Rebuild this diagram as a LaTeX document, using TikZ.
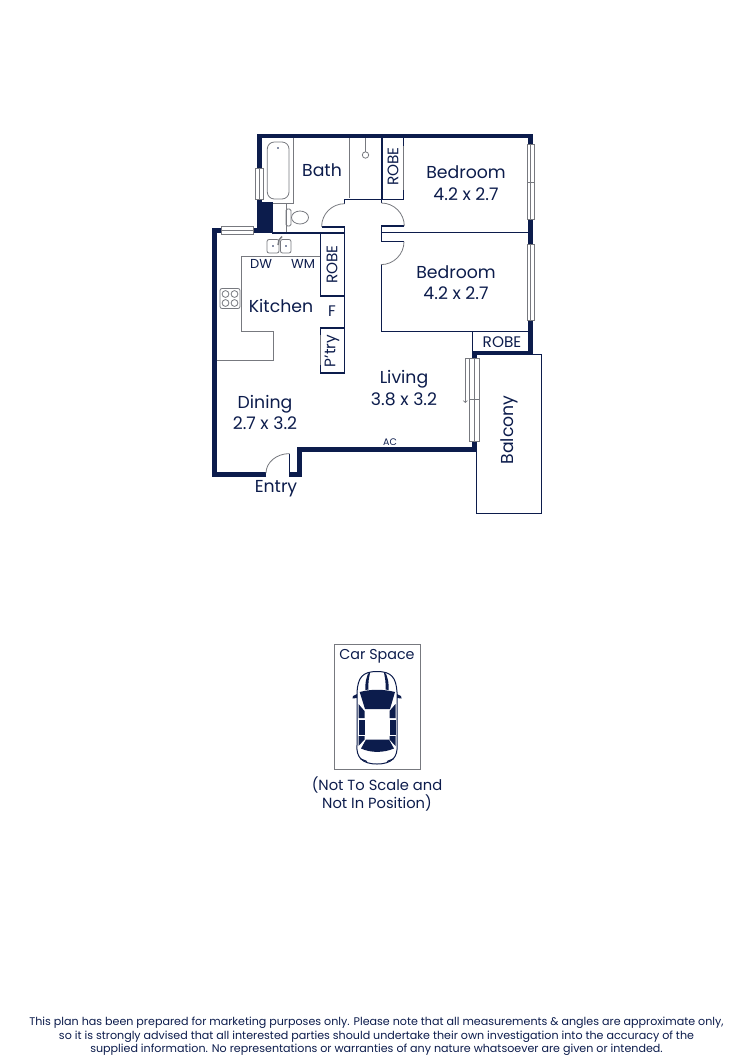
\documentclass[tikz,border=0pt]{standalone}
\usepackage{fontspec}
\setmainfont{Poppins}
\definecolor{navy}{HTML}{0C1C4C}
\definecolor{fixture}{HTML}{77797F}
\tikzset{
    wall/.style={navy, line width=4.6pt},
    partition/.style={navy, line width=1.6pt},
    fitting/.style={fixture, line width=0.8pt},
    windowpane/.style={draw=fixture, fill=white, line width=0.8pt},
    roomlabel/.style={text=navy, font=\fontsize{17.3}{21.5}\selectfont, align=center, inner sep=0pt},
    smalllabel/.style={text=navy, font=\fontsize{15.3}{18}\selectfont, inner sep=0pt},
    tinylabel/.style={text=navy, font=\fontsize{13}{15}\selectfont, inner sep=0pt},
    carglass/.style={fill=navy, draw=none}
}
\begin{document}
\begin{tikzpicture}[x=1pt, y=-1pt]
  \useasboundingbox (0,0) rectangle (750,1061);
  % balcony
  \draw[navy, line width=0.9pt, fill=white] (476.7,354.5) rectangle (541,513);
  % outer walls
  \draw[wall] (259.5,202) -- (259.5,135.8) -- (530.3,135.8) -- (530.3,146);
  \draw[wall] (530.3,218) -- (530.3,246);
  \draw[wall] (530.3,318) -- (530.3,353) -- (474.5,353) -- (474.5,360);
  \draw[wall] (474.5,440) -- (474.5,449.5) -- (299.3,449.5) -- (299.3,474.5) -- (289,474.5);
  \draw[wall] (266,474.5) -- (214.3,474.5) -- (214.3,230.5) -- (223,230.5);
  \draw[wall] (252,230.5) -- (262,230.5);
  \fill[navy] (257.3,202) rectangle (272.8,233);
  % inner walls
  \draw[partition] (344.6,203.5) -- (344.6,199.5) -- (403.5,199.5) -- (403.5,190);
  \draw[partition] (403.5,146) -- (403.5,138);
  \draw[partition] (382,138) -- (382,199.5);
  \draw[partition] (381.3,199.5) -- (381.3,203);
  \draw[partition] (322,226.7) -- (344.6,226.7) -- (344.6,373) -- (320.3,373) -- (320.3,365);
  \draw[partition] (320.3,335) -- (320.3,328) -- (344.6,328);
  \draw[partition] (320.3,233) -- (320.3,295.7) -- (344.6,295.7);
  \draw[partition] (404,226) -- (381.3,226) -- (381.3,241.6) -- (404,241.6);
  \draw[partition] (381.3,232.3) -- (528,232.3);
  \draw[partition] (381.3,265) -- (381.3,331.5) -- (472.5,331.5) -- (472.5,351);
  \draw[partition] (472.5,331.5) -- (528,331.5);
  \draw[partition] (289.5,454) -- (289.5,473);
  \draw[partition] (272,232.8) -- (344.6,232.8);
  % doors
  \draw[fitting] (344.6,203.7) arc[start angle=90, end angle=180, radius=23pt];
  \draw[fitting] (381.3,203) arc[start angle=90, end angle=0, radius=23pt];
  \draw[fitting] (404,241.6) arc[start angle=0, end angle=-90, radius=23pt];
  \draw[fitting] (289.5,453.6) arc[start angle=90, end angle=180, x radius=23.5pt, y radius=19.5pt];
  \draw[fitting] (320.3,335) -- (320.3,365);
  \draw[fitting] (403.5,146) -- (403.5,190);
  % windows
  \draw[windowpane] (255.5,168) rectangle (263,199);
  \draw[windowpane] (221.5,226.5) rectangle (253,234);
  \draw[windowpane] (527,144) rectangle (534,219);
  \draw[fitting] (527,182) -- (534,182);
  \draw[windowpane] (527,244) rectangle (534,320);
  \draw[windowpane] (469.5,358) rectangle (479,441);
  \draw[fitting] (469.5,399) -- (479,399);
  \draw[fitting] (474.2,358) -- (474.2,441);
  \draw[fitting] (530.5,144) -- (530.5,219);
  \draw[fitting] (530.5,244) -- (530.5,320);
  \draw[fitting] (259.2,168) -- (259.2,199);
  \draw[fitting] (221.5,230.2) -- (253,230.2);
  \draw[fitting, -to] (465.3,358) -- (465.3,403) ;
  \draw[fitting] (465.3,358) -- (469.5,358);
  % bath and toilet
  \draw[fitting] (293,138) -- (293,203) -- (273,203);
  \draw[fitting] (286,203) -- (286,232);
  \draw[fitting, rounded corners=7pt] (267.3,142) rectangle (289,199);
  \fill[navy] (278,148) circle (0.9pt);
  \draw[fitting, rounded corners=1.5pt] (286,209) rectangle (291,226);
  \draw[fitting, fill=white] (300,217.5) ellipse (8.5pt and 6.5pt);
  \draw[fitting] (349.5,138) -- (349.5,198);
  \draw[fitting] (365.5,138) -- (365.5,152);
  \draw[fitting] (365.5,155) circle (3.2pt);
  % kitchen
  \draw[fitting] (320,256) -- (241,256) -- (241,331.7) -- (273,331.7) -- (273,360.7) -- (217,360.7);
  \draw[fitting, fill=white, rounded corners=2pt] (220,288.5) rectangle (240,308.5);
  \foreach \hobx in {225.5,234.5} {
    \foreach \hoby in {294,303} {
      \draw[fitting] (\hobx,\hoby) circle (3.4pt);
    }
  }
  \draw[fitting, rounded corners=2pt] (267,239.5) rectangle (279,253);
  \draw[fitting, rounded corners=2pt] (280.5,239.5) rectangle (291,253);
  \fill[navy] (273,246) circle (0.8pt);
  \fill[navy] (286,246) circle (0.8pt);
  \draw[fitting, line width=1.4pt] (278,245) -- (279,240) -- (282,236.5);
  % labels
  \node[roomlabel] (bathname) at (322,170) {Bath};
  \node[roomlabel] (bedroomupper) at (466,183) {Bedroom\\4.2 x 2.7};
  \node[roomlabel] (bedroomlower) at (456,282.5) {Bedroom\\4.2 x 2.7};
  \node[roomlabel] (kitchenname) at (281,305.5) {Kitchen};
  \node[roomlabel] (livingname) at (404,388) {Living\\3.8 x 3.2};
  \node[roomlabel] (diningname) at (265,412.5) {Dining\\2.7 x 3.2};
  \node[roomlabel] (entryname) at (276,488.5) {Entry};
  \node[roomlabel, rotate=90] (balconyname) at (509,430) {Balcony};
  \node[smalllabel, rotate=90] (robeupper) at (393,166.5) {ROBE};
  \node[smalllabel, rotate=90] (robekitchen) at (332,264.5) {ROBE};
  \node[smalllabel] (robelower) at (502,342) {ROBE};
  \node[smalllabel, rotate=90] (pantryname) at (332,351) {P'try};
  \node[smalllabel] (fridgename) at (332,311.5) {F};
  \node[tinylabel] (dwname) at (261,263.5) {DW};
  \node[tinylabel] (wmname) at (303,263.5) {WM};
  \node[text=navy, font=\fontsize{9.5}{11}\selectfont, inner sep=0pt] (acname) at (390,442.5) {AC};
  % car space
  \draw[fixture, line width=1pt] (334.5,644) rectangle (420.5,769);
  \node[smalllabel, font=\fontsize{14.3}{17}\selectfont] (carname) at (377,656) {Car Space};
  \draw[navy, line width=1pt, fill=white] (377,671.5)
    .. controls (362,671.5) and (358,678) .. (357,692)
    -- (357,745) .. controls (356,757) and (362,764) .. (377,764)
    .. controls (392,764) and (398,757) .. (397,745)
    -- (397,692) .. controls (396,678) and (392,671.5) .. (377,671.5) -- cycle;
  \fill[navy] (357,694) -- (353,696) -- (352.5,698.5) -- (357,698) -- cycle;
  \fill[navy] (397,694) -- (401,696) -- (401.5,698.5) -- (397,698) -- cycle;
  \fill[carglass] (359.7,692) .. controls (371,689) and (383,689) .. (395,692) -- (390,709) -- (365,709) -- cycle;
  \fill[carglass] (366,739.5) -- (389,739.5) -- (394,748.5) .. controls (383,753) and (371,753) .. (361,748.5) -- cycle;
  \fill[carglass] (358.5,704) -- (364.5,711) -- (364.5,718) -- (358.5,718) -- cycle;
  \fill[carglass] (395.5,704) -- (389.5,711) -- (389.5,718) -- (395.5,718) -- cycle;
  \fill[carglass] (358.5,719.5) rectangle (364.5,734.5);
  \fill[carglass] (389.5,719.5) rectangle (395.5,734.5);
  \fill[carglass] (358.5,736) -- (364.5,736) -- (364.5,739.5) -- (358.5,746) -- cycle;
  \fill[carglass] (395.5,736) -- (389.5,736) -- (389.5,739.5) -- (395.5,746) -- cycle;
  \fill[carglass] (368,673.5) .. controls (366,680) and (365,682) .. (365.5,690) -- (368.5,689.5) .. controls (368,682) and (369,678) .. (370,673) -- cycle;
  \fill[carglass] (386,673.5) .. controls (388,680) and (389,682) .. (388.5,690) -- (385.5,689.5) .. controls (386,682) and (385,678) .. (384,673) -- cycle;
  \draw[navy, line width=1pt] (360,758.5) -- (367,761.5);
  \draw[navy, line width=1pt] (394,758.5) -- (387,761.5);
  \node[smalllabel, align=center, font=\fontsize{14.7}{18}\selectfont] (scalenote) at (377,794) {(Not To Scale and\\Not In Position)};
  % disclaimer
  \node[text=navy, font=\fontsize{11.1}{13.5}\selectfont, align=center, inner sep=0pt] (disclaimer) at (376.5,1036.5) {This plan has been prepared for marketing purposes only. Please note that all measurements \& angles are approximate only,\\so it is strongly advised that all interested parties should undertake their own investigation into the accuracy of the\\supplied information. No representations or warranties of any nature whatsoever are given or intended.};
\end{tikzpicture}
\end{document}
